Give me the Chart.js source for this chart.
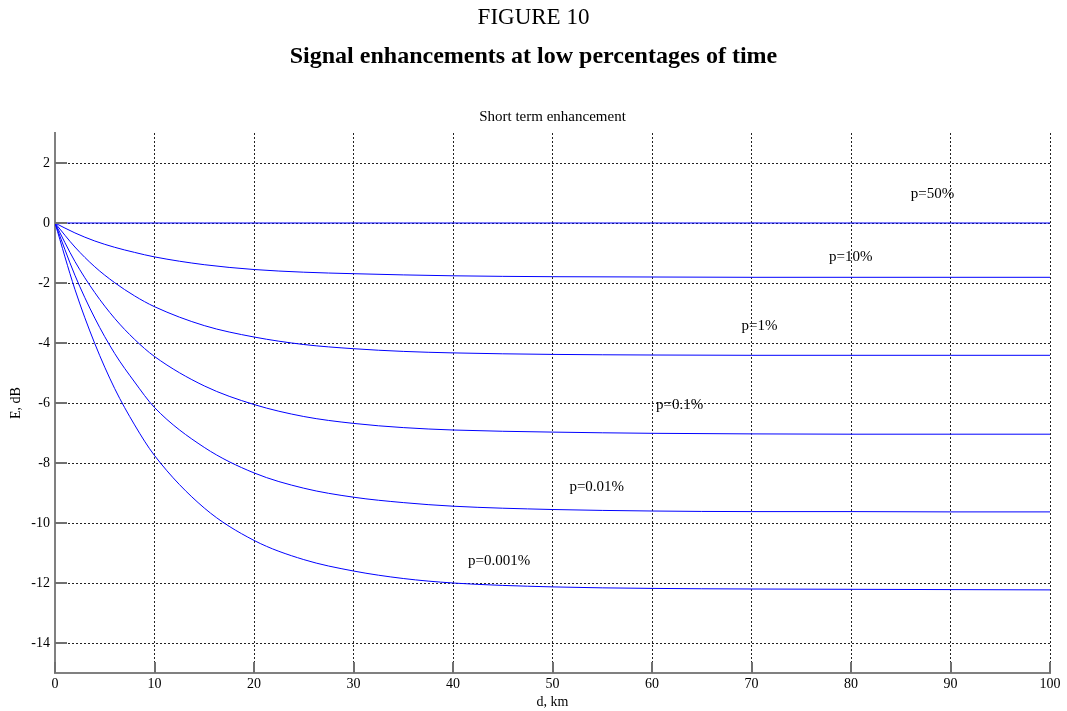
<!DOCTYPE html>
<html>
<head>
<meta charset="utf-8">
<script src="https://cdn.jsdelivr.net/npm/chart.js@4"></script>
<style>
  body { margin: 0; background: #fff; }
  #wrap { position: relative; width: 1067px; height: 711px; }
  #chart { position: absolute; left: 0; top: 0; }
  .head { position: absolute; left: 0; width: 1067px; text-align: center; font-family: "Liberation Serif", "Times New Roman", serif; color: #000; }
  #fig { top: 4px; font-size: 23px; }
  #ttl { top: 42px; font-size: 24px; font-weight: bold; }
</style>
</head>
<body>
<div id="wrap">
  <canvas id="chart" width="1067" height="711"></canvas>
  <div class="head" id="fig">FIGURE 10</div>
  <div class="head" id="ttl">Signal enhancements at low percentages of time</div>
</div>
<script>
// distance, km
const distances = [0, 2, 4, 6, 8, 10, 15, 20, 25, 30, 35, 40, 50, 60, 70, 80, 90, 100];

// E, dB
const p50   = [0, 0, 0, 0, 0, 0, 0, 0, 0, 0, 0, 0, 0, 0, 0, 0, 0, 0];
const p10   = [0, -0.33, -0.6, -0.81, -0.98, -1.13, -1.39, -1.55, -1.64, -1.69, -1.73, -1.76, -1.79, -1.8, -1.81, -1.81, -1.81, -1.81];
const p1    = [0, -0.8, -1.46, -1.99, -2.43, -2.79, -3.42, -3.8, -4.05, -4.19, -4.28, -4.33, -4.38, -4.4, -4.41, -4.41, -4.41, -4.41];
const p01   = [0, -1.28, -2.32, -3.18, -3.88, -4.45, -5.43, -6.05, -6.45, -6.68, -6.82, -6.9, -6.97, -7.01, -7.03, -7.04, -7.04, -7.04];
const p001  = [0, -1.74, -3.17, -4.35, -5.3, -6.15, -7.48, -8.33, -8.84, -9.14, -9.32, -9.44, -9.55, -9.6, -9.62, -9.62, -9.63, -9.63];
const p0001 = [0, -2.21, -4.02, -5.52, -6.73, -7.75, -9.5, -10.58, -11.22, -11.6, -11.85, -12.0, -12.13, -12.18, -12.2, -12.21, -12.22, -12.23];

// curve labels (text, d, E)
const labelText = ['p=50%', 'p=10%', 'p=1%', 'p=0.1%', 'p=0.01%', 'p=0.001%'];
const labelD    = [86.0, 77.8, 69.0, 60.4, 51.7, 41.5];
const labelE    = [0.97, -1.15, -3.42, -6.07, -8.8, -11.27];

const xTickValues = [0, 10, 20, 30, 40, 50, 60, 70, 80, 90, 100];
const yTickValues = [-14, -12, -10, -8, -6, -4, -2, 0, 2];
const xRange = [0, 100];
const yRange = [-15, 3];

const serif = '"Liberation Serif", "Times New Roman", serif';
const blue = '#0000ff';

function series(vals) {
  return {
    data: distances.map((d, i) => ({ x: d, y: vals[i] })),
    borderColor: blue,
    borderWidth: 1,
    pointRadius: 0,
    cubicInterpolationMode: 'monotone',
    fill: false
  };
}

const extras = {
  id: 'extras',
  afterDatasetsDraw(chart) {
    const { ctx, chartArea: a, scales: { x, y } } = chart;
    ctx.save();
    // inward ticks
    ctx.strokeStyle = '#707070';
    ctx.lineWidth = 2;
    ctx.beginPath();
    x.ticks.forEach(t => {
      const px = Math.round(x.getPixelForValue(t.value));
      ctx.moveTo(px, a.bottom);
      ctx.lineTo(px, a.bottom - 11);
    });
    y.ticks.forEach(t => {
      const py = Math.round(y.getPixelForValue(t.value));
      ctx.moveTo(a.left, py);
      ctx.lineTo(a.left + 12, py);
    });
    ctx.stroke();
    // curve labels
    ctx.fillStyle = '#000';
    ctx.font = '15px ' + serif;
    ctx.textAlign = 'left';
    ctx.textBaseline = 'middle';
    labelText.forEach((s, i) => {
      ctx.fillText(s, x.getPixelForValue(labelD[i]), y.getPixelForValue(labelE[i]));
    });
    // subtitle
    ctx.font = '15px ' + serif;
    ctx.textAlign = 'center';
    ctx.fillText('Short term enhancement', (a.left + a.right) / 2, 117);
    ctx.restore();
  }
};

new Chart(document.getElementById('chart'), {
  type: 'line',
  data: {
    datasets: [series(p50), series(p10), series(p1), series(p01), series(p001), series(p0001)]
  },
  options: {
    responsive: false,
    animation: false,
    layout: { padding: { top: 133, right: 17, left: 0, bottom: 0 } },
    plugins: { legend: { display: false }, tooltip: { enabled: false } },
    scales: {
      x: {
        type: 'linear',
        min: xRange[0], max: xRange[1],
        afterFit(s) { s.height = 38; },
        afterBuildTicks(s) { s.ticks = xTickValues.map(v => ({ value: v })); },
        ticks: { color: '#000', font: { family: serif, size: 14 }, padding: 3, maxRotation: 0 },
        grid: { color: '#222', lineWidth: 1, drawTicks: false },
        border: { color: '#808080', width: 2, dash: [2, 2] },
        title: { display: true, text: 'd, km', color: '#000', font: { family: serif, size: 14 }, padding: 0 }
      },
      y: {
        type: 'linear',
        min: yRange[0], max: yRange[1],
        afterFit(s) { s.width = 55; },
        afterBuildTicks(s) { s.ticks = yTickValues.map(v => ({ value: v })); },
        ticks: { color: '#000', font: { family: serif, size: 14 }, padding: 5 },
        grid: { color: '#222', lineWidth: 1, drawTicks: false },
        border: { color: '#808080', width: 2, dash: [2, 2] },
        title: { display: true, text: 'E, dB', color: '#000', font: { family: serif, size: 14 }, padding: { top: 8, bottom: 0 } }
      }
    }
  },
  plugins: [extras]
});
</script>
</body>
</html>
